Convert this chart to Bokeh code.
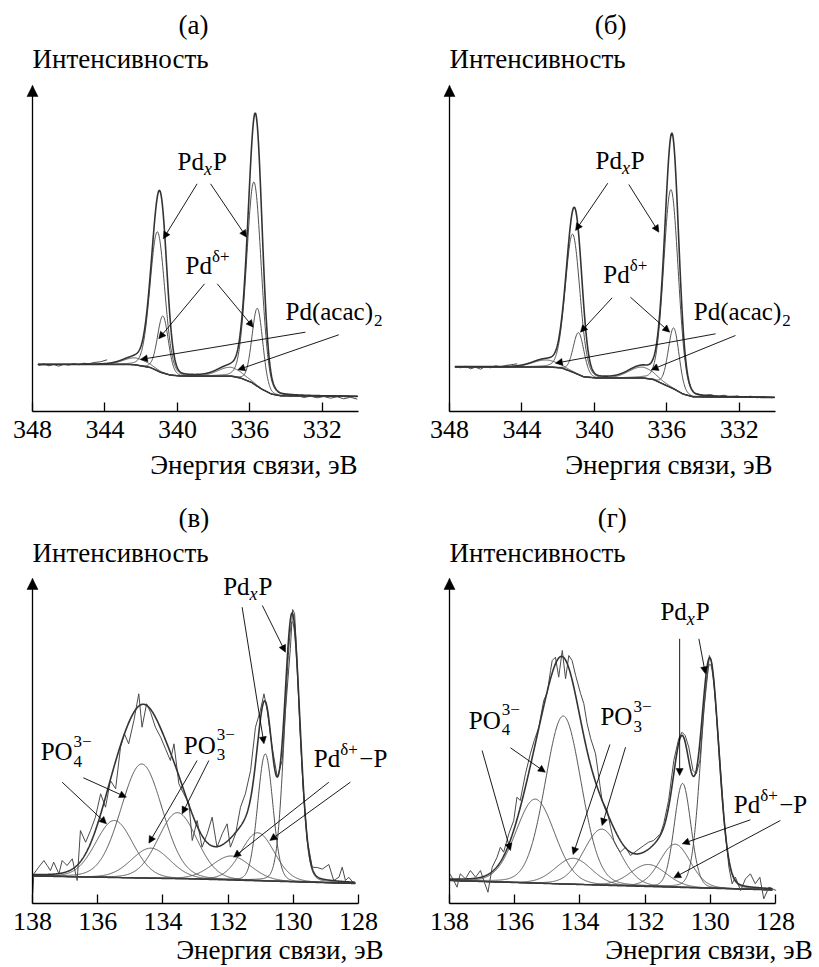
import numpy as np
from bokeh.plotting import figure
from bokeh.models import Range1d, LinearAxis, FixedTicker, Label, Arrow, NormalHead
from bokeh.layouts import gridplot
from bokeh.embed import file_html
from bokeh.resources import INLINE

FONT = "Liberation Serif"

# ---------------- data ----------------
TICKS_PD = [348, 344, 340, 336, 332]
TICKS_P = [138, 136, 134, 132, 130, 128]
X_LABEL = "Энергия связи, эВ"
Y_LABEL = "Интенсивность"
TITLES = ["(а)", "(б)", "(в)", "(г)"]

# panel (а): Pd 3d
A_BG_E = [347.7, 342.8, 342.4, 341.5, 340.9, 340.4, 339.8, 337.0, 336.5, 335.9, 335.35, 334.8, 334.3, 330.05]
A_BG_I = [47.0, 47.0, 46.8, 44.0, 39.0, 36.4, 35.4, 35.2, 33.4, 29.0, 22.4, 17.4, 15.7, 15.0]
A_PK_E = [335.77, 341.10, 335.58, 340.80, 337.10, 342.30]
A_PK_H = [202, 139, 78, 57, 9, 7]
A_PK_W = [0.95, 0.95, 0.70, 0.70, 1.6, 1.6]
A_RAW_L_E = [347.65, 347.37, 347.10, 346.82, 346.55, 346.27, 345.99, 345.72, 345.44, 345.17, 344.89, 344.61, 344.25, 343.88]
A_RAW_L_I = [46.0, 47.7, 45.7, 47.0, 45.3, 47.3, 46.3, 48.0, 46.7, 48.3, 47.7, 49.0, 49.7, 51.7]
A_RAW_R_E = [334.12, 333.75, 333.39, 333.02, 332.65, 332.28, 331.91, 331.55, 331.18, 330.81, 330.44, 330.07]
A_RAW_R_I = [17.0, 15.0, 16.0, 14.0, 15.3, 13.7, 15.0, 13.3, 14.7, 12.7, 14.3, 12.3]

# panel (б): Pd 3d
B_BG_E = [347.7, 342.5, 341.8, 341.15, 340.6, 339.85, 337.3, 336.75, 336.2, 335.6, 335.1, 334.55, 330.05]
B_BG_I = [44.7, 44.5, 43.5, 39.0, 34.7, 33.4, 33.4, 32.0, 27.4, 22.4, 17.4, 14.7, 14.0]
B_PK_E = [335.77, 341.20, 335.62, 340.87, 337.40, 342.70]
B_PK_H = [198, 138, 61, 42, 11, 7]
B_PK_W = [0.95, 0.95, 0.70, 0.70, 1.7, 1.7]
B_RAW_L_E = [347.67, 347.39, 347.12, 346.84, 346.56, 346.29, 346.01, 345.74, 345.46, 345.18, 344.91, 344.63, 344.26]
B_RAW_L_I = [45.0, 43.7, 45.3, 42.7, 44.3, 42.3, 45.0, 43.7, 45.7, 44.7, 46.0, 46.7, 47.7]
B_RAW_R_E = [334.32, 333.96, 333.59, 333.22, 332.85, 332.48, 332.12, 331.75, 331.38, 331.01, 330.64, 330.18]
B_RAW_R_I = [17.7, 16.0, 17.0, 15.0, 16.3, 14.3, 15.7, 14.0, 15.3, 13.7, 15.0, 13.7]

# panel (в): P 2p
C_BG_E = [138.0, 133.0, 128.1]
C_BG_I = [27.5, 24.5, 20.0]
C_PK_E = [130.03, 130.86, 131.09, 131.90, 133.55, 134.37, 134.65, 135.49]
C_PK_H = [260, 127, 48, 24, 66, 30, 114, 57]
C_PK_W = [0.55, 0.55, 1.2, 1.4, 1.4, 1.4, 1.5, 1.35]
C_RAW_E = [137.99, 137.96, 137.81, 137.65, 137.55, 137.45, 137.35, 137.19, 137.09, 136.94,
           136.78, 136.63, 136.53, 136.37, 136.22, 136.07, 135.91, 135.76, 135.61, 135.45,
           135.30, 135.18, 135.05, 134.89, 134.74, 134.64, 134.50, 134.38, 134.23, 134.07,
           133.92, 133.77, 133.66, 133.51, 133.36, 133.20, 133.10, 132.95, 132.80, 132.64,
           132.49, 132.34, 132.18, 132.03, 131.93, 131.77, 131.62, 131.47, 131.31, 131.16,
           131.01, 130.90, 130.80, 130.65, 130.49, 130.34, 130.24, 130.09, 130.02, 129.96,
           129.88, 129.80, 129.70, 129.57, 129.42, 129.27, 129.11, 128.91, 128.76, 128.60,
           128.50, 128.40, 128.30, 128.14]
C_RAW_I = [10.0, 29.7, 36.3, 43.0, 38.0, 33.0, 41.3, 29.7, 43.0, 38.0,
           44.7, 23.0, 73.0, 61.3, 73.0, 86.3, 109.7, 96.3, 123.0, 114.7,
           156.3, 169.7, 159.7, 183.0, 209.7, 176.3, 199.7, 191.3, 176.3, 166.3,
           154.7, 143.0, 159.7, 119.7, 109.7, 99.7, 63.0, 83.0, 56.3, 69.7,
           86.3, 56.3, 69.7, 79.7, 56.3, 69.7, 96.3, 109.7, 133.0, 176.3,
           193.0, 209.7, 193.0, 156.3, 126.3, 143.0, 193.0, 255.0, 294.0, 290.0,
           240.0, 176.0, 116.0, 63.0, 36.3, 36.0, 34.4, 39.0, 23.0, 26.3,
           36.3, 23.0, 26.3, 20.0]

# panel (г): P 2p
D_BG_E = [138.0, 133.0, 128.0]
D_BG_I = [23.0, 18.0, 13.5]
D_PK_E = [130.01, 130.85, 131.08, 131.90, 133.33, 134.20, 134.51, 135.37]
D_PK_H = [224, 104, 43, 22, 56, 26, 168, 84]
D_PK_W = [0.65, 0.60, 1.1, 1.3, 1.3, 1.3, 1.3, 1.4]
D_RAW_E = [137.99, 137.87, 137.77, 137.67, 137.51, 137.36, 137.20, 137.05, 136.95, 136.82,
           136.69, 136.54, 136.44, 136.34, 136.18, 136.03, 135.93, 135.83, 135.67, 135.52,
           135.40, 135.26, 135.11, 135.00, 134.90, 134.85, 134.75, 134.65, 134.54, 134.44,
           134.34, 134.24, 134.13, 133.98, 133.88, 133.78, 133.67, 133.52, 133.42, 133.32,
           133.16, 133.06, 132.96, 132.86, 132.76, 132.60, 132.45, 132.25, 132.04, 131.89,
           131.74, 131.53, 131.43, 131.28, 131.12, 130.97, 130.87, 130.77, 130.66, 130.53,
           130.43, 130.32, 130.20, 130.07, 130.03, 129.97, 129.89, 129.74, 129.58, 129.43,
           129.33, 129.23, 129.07, 128.92, 128.77, 128.62, 128.48, 128.36, 128.20, 127.98]
D_RAW_I = [29.7, 23.0, 16.3, 29.7, 24.7, 33.0, 26.3, 33.0, 23.0, 11.3,
           36.3, 46.3, 56.3, 51.3, 69.7, 83.0, 106.3, 103.0, 129.7, 149.7,
           163.0, 176.3, 203.0, 211.0, 233.0, 243.0, 246.3, 226.3, 253.0, 224.7,
           248.0, 243.0, 228.0, 210.0, 200.0, 180.0, 165.0, 149.7, 126.3, 103.0,
           93.0, 76.3, 63.0, 56.3, 51.3, 56.3, 48.0, 53.0, 58.0, 61.3,
           63.0, 69.7, 79.7, 103.0, 143.0, 164.7, 171.3, 168.0, 156.3, 133.0,
           129.7, 143.0, 193.0, 233.0, 248.0, 243.0, 223.0, 159.7, 86.3, 36.3,
           19.7, 26.3, 13.0, 24.7, 29.7, 19.7, 26.3, 4.7, 16.3, 13.0]

ETA = 0.10  # Lorentzian fraction of the fitted peak shapes

# ---------------- helpers ----------------
FW = 326  # axis length, px
SIZE = 25      # annotation text
BIG = 27       # titles / axis captions
TICK = 26
SUB = 17
TEXT_DY = 3.5  # small correction of the renderer's vertical text centring
EM = {"P": .556, "d": .5, "O": .722, "x": .444, "(": .333, ")": .333, "a": .444,
      "c": .444, "δ": .5, "+": .564, "−": .564, "2": .5, "3": .5, "4": .5}


def tw(s, size):
    return sum(EM.get(ch, .5) for ch in s) * size


def model(x, bg_e, bg_i, ce, ch, cw):
    be = np.array(bg_e)
    bi = np.array(bg_i)
    o = np.argsort(be)
    bg = np.interp(x, be[o], bi[o])
    comps = []
    for c, h, w in zip(ce, ch, cw):
        d = (x - c) / w
        shape = (1 - ETA) * np.exp(-4 * np.log(2) * d * d) + ETA / (1 + 4 * d * d)
        comps.append(h * shape)
    env = bg + np.sum(comps, axis=0)
    return bg, [bg + c for c in comps], env


def make_panel(width, height, left, axis_y, fh, e0, e1, ticks):
    s = FW / abs(e0 - e1)
    x0 = e0 + left / s
    x1 = e0 - (width - left) / s
    p = figure(width=width, height=height,
               x_range=Range1d(x0, x1), y_range=Range1d(-(height - axis_y), axis_y),
               output_backend="svg", toolbar_location=None,
               x_axis_location=None, y_axis_location=None, min_border=0)
    p.outline_line_color = None
    p.background_fill_color = "white"
    p.border_fill_color = "white"
    for g in p.grid:
        g.visible = False
    xa = LinearAxis(ticker=FixedTicker(ticks=ticks), fixed_location=0,
                    bounds=(min(e0, e1), max(e0, e1)),
                    major_tick_in=9, major_tick_out=0,
                    minor_tick_in=0, minor_tick_out=0,
                    axis_line_width=1.3, major_tick_line_width=1.3,
                    axis_line_color="black", major_tick_line_color="black",
                    major_label_text_font=FONT, major_label_text_font_size=f"{TICK}px",
                    major_label_text_color="black", major_label_standoff=9)
    p.add_layout(xa, "below")
    ya = LinearAxis(ticker=FixedTicker(ticks=[]), fixed_location=e0, bounds=(0, fh),
                    major_tick_in=0, major_tick_out=0,
                    minor_tick_in=0, minor_tick_out=0,
                    major_label_text_font_size="0px",
                    axis_line_width=1.3, axis_line_color="black")
    p.add_layout(ya, "left")
    p.add_layout(Arrow(x_start=e0, y_start=fh - 14, x_end=e0, y_end=fh,
                       line_alpha=0,
                       end=NormalHead(size=11, line_color="black", fill_color="black",
                                      line_width=0.5)))
    return p


def txt(p, x, y, s, size=SIZE, align="left", italic=False, dx=0, dy=0, center=False,
        corr=TEXT_DY):
    # y is the baseline (or the visual centre when center=True), in data units (1 unit = 1 px)
    yc = y if center else y + 0.34 * size
    p.add_layout(Label(x=x, y=yc, x_offset=dx, y_offset=dy + corr, text=s, text_font=FONT,
                       text_font_size=f"{size}px", text_align=align,
                       text_baseline="middle", text_color="black",
                       text_font_style="italic" if italic else "normal"))


def pdxp(p, x, y):
    txt(p, x, y, "Pd")
    w = tw("Pd", SIZE)
    txt(p, x, y, "x", size=SUB + 1, italic=True, dx=w, dy=-5)
    txt(p, x, y, "P", dx=w + tw("x", SUB + 1) + 1)


def pd_delta(p, x, y, tail=""):
    txt(p, x, y, "Pd")
    w = tw("Pd", SIZE)
    txt(p, x, y, "δ+", size=SUB, dx=w, dy=12)
    if tail:
        txt(p, x, y, tail, dx=w + tw("δ+", SUB) + 1)


def po(p, x, y, sub):
    txt(p, x, y, "PO")
    w = tw("PO", SIZE) + 1
    txt(p, x, y, "3−", size=SUB, dx=w, dy=13)
    txt(p, x, y, sub, size=SUB, dx=w, dy=-7)


def acac(p, x, y):
    txt(p, x, y, "Pd(acac)")
    txt(p, x, y, "2", size=SUB, dx=tw("Pd(acac)", SIZE) + 1, dy=-6)


def arr(p, x0, y0, x1, y1):
    p.add_layout(Arrow(x_start=x0, y_start=y0, x_end=x1, y_end=y1,
                       line_width=0.9, line_color="black",
                       end=NormalHead(size=7, line_color="black", fill_color="black",
                                      line_width=0.5)))


def draw_curves(p, x, bg, comps, env, raws):
    for c in comps:
        p.line(x, c, line_color="#505050", line_width=1.0)
    p.line(x, bg, line_color="#3a3a3a", line_width=1.5)
    for re, ri in raws:
        p.line(re, ri, line_color="#4a4a4a", line_width=1.0)
    p.line(x, env, line_color="#333333", line_width=1.6)


def captions(p, title, tx, xlab_x, top):
    if top:
        txt(p, tx, 383, title, size=BIG, align="center", center=True)
        txt(p, 348.0, 349, Y_LABEL, size=BIG, center=True)
        txt(p, xlab_x, -54.5, X_LABEL, size=BIG, align="right", center=True, corr=1)
    else:
        txt(p, tx, 382, title, size=BIG, align="center", center=True)
        txt(p, 138.0, 347.5, Y_LABEL, size=BIG, center=True)
        txt(p, xlab_x, -46, X_LABEL, size=BIG, align="right", center=True, corr=0)


TOP_H, BOT_H = 488, 479
LEFT_W, RIGHT_W = 418, 401

# ---------------- panel (а) ----------------
pa = make_panel(LEFT_W, TOP_H, 32, 411, 326, 348, 330, TICKS_PD)
xa = np.linspace(347.7, 330.05, 900)
bg, comps, env = model(xa, A_BG_E, A_BG_I, A_PK_E, A_PK_H, A_PK_W)
draw_curves(pa, xa, bg, comps, env, [(A_RAW_L_E, A_RAW_L_I), (A_RAW_R_E, A_RAW_R_I)])
captions(pa, TITLES[0], 339.11, 330.05, True)
pdxp(pa, 339.99, 238)
pd_delta(pa, 339.55, 134)
acac(pa, 334.03, 88)
arr(pa, 338.91, 227.7, 340.78, 172.7)
arr(pa, 338.17, 227.7, 336.18, 174.3)
arr(pa, 338.50, 127.7, 341.03, 72.7)
arr(pa, 337.80, 127.7, 335.81, 84.3)
arr(pa, 332.93, 79.3, 342.04, 52.0)
arr(pa, 331.09, 76.7, 336.66, 41.7)

# ---------------- panel (б) ----------------
pb = make_panel(RIGHT_W, TOP_H, 31, 411, 326, 348, 330, TICKS_PD)
bg, comps, env = model(xa, B_BG_E, B_BG_I, B_PK_E, B_PK_H, B_PK_W)
draw_curves(pb, xa, bg, comps, env, [(B_RAW_L_E, B_RAW_L_I), (B_RAW_R_E, B_RAW_R_I)])
captions(pb, TITLES[1], 339.11, 330.16, True)
pdxp(pb, 339.94, 239)
pd_delta(pb, 339.51, 125)
acac(pb, 334.51, 88)
arr(pb, 339.26, 228.3, 341.04, 181.0)
arr(pb, 338.10, 227.0, 336.44, 179.3)
arr(pb, 339.02, 113.7, 340.77, 79.3)
arr(pb, 338.01, 114.3, 335.84, 79.3)
arr(pb, 333.31, 77.7, 342.15, 48.3)
arr(pb, 332.21, 76.0, 336.86, 41.7)

# ---------------- panel (в) ----------------
pc = make_panel(LEFT_W, BOT_H, 32, 903 - TOP_H, 325, 138, 128, TICKS_P)
xc = np.linspace(138.0, 128.1, 1000)
bg, comps, env = model(xc, C_BG_E, C_BG_I, C_PK_E, C_PK_H, C_PK_W)
draw_curves(pc, xc, bg, comps, env, [(C_RAW_E, C_RAW_I)])
captions(pc, TITLES[2], 133.05, 127.23, False)
pdxp(pc, 132.15, 304.7)
po(pc, 137.75, 139.7, "4")
po(pc, 133.36, 146.3, "3")
pd_delta(pc, 129.37, 133.0, "−P")
arr(pc, 131.57, 296.3, 130.90, 159.7)
arr(pc, 130.95, 298.0, 130.24, 251.3)
arr(pc, 137.09, 121.3, 135.73, 79.7)
arr(pc, 136.44, 125.7, 135.12, 106.3)
arr(pc, 132.95, 143.0, 134.43, 60.3)
arr(pc, 132.59, 143.0, 133.41, 89.7)
arr(pc, 128.91, 121.3, 131.83, 46.3)
arr(pc, 128.25, 121.3, 130.72, 63.0)

# ---------------- panel (г) ----------------
pd_ = make_panel(RIGHT_W, BOT_H, 31, 903 - TOP_H, 325, 138, 128, TICKS_P)
bg, comps, env = model(xc, D_BG_E, D_BG_I, D_PK_E, D_PK_H, D_PK_W)
draw_curves(pd_, xc, bg, comps, env, [(D_RAW_E, D_RAW_I)])
captions(pd_, TITLES[3], 133.01, 126.86, False)
pdxp(pd_, 131.53, 279.7)
po(pd_, 137.41, 171.3, "4")
po(pd_, 133.37, 174.7, "3")
pd_delta(pd_, 129.28, 87.0, "−P")
arr(pd_, 130.94, 264.7, 130.94, 128.0)
arr(pd_, 130.35, 264.7, 130.15, 229.7)
arr(pd_, 137.00, 153.0, 136.13, 53.0)
arr(pd_, 136.13, 155.7, 135.06, 131.3)
arr(pd_, 133.08, 159.0, 134.21, 49.0)
arr(pd_, 132.60, 156.3, 133.32, 78.0)
arr(pd_, 128.77, 83.7, 130.86, 59.7)
arr(pd_, 127.85, 83.0, 131.12, 25.7)

layout = gridplot([[pa, pb], [pc, pd_]], toolbar_location=None)
open("out.html", "w").write(file_html(layout, INLINE))
